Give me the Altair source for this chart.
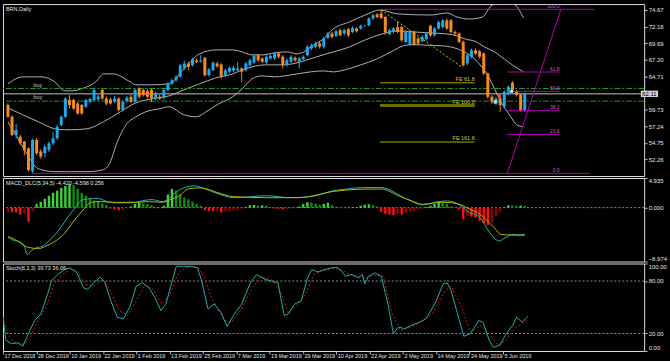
import altair as alt
import pandas as pd
import numpy as np

# ------------------------------------------------------------------ data
OPEN = [
    60.43, 58.69, 55.95, 55.70, 54.95, 53.96, 50.47, 55.20, 53.46, 53.21,
    53.71, 54.70, 55.45, 57.44, 58.69, 61.17, 61.17, 60.68, 60.43, 60.18,
    60.93, 61.17, 61.30, 62.67, 61.42, 61.27, 60.93, 61.42, 59.68, 61.03,
    61.67, 60.93, 62.92, 62.67, 62.52, 62.67, 61.42, 61.67, 61.52, 62.67,
    63.67, 64.16, 64.66, 65.91, 66.66, 66.41, 67.16, 66.91, 67.50, 64.91,
    65.66, 66.66, 66.51, 64.81, 65.41, 65.61, 65.66, 65.91, 65.66, 66.41,
    66.81, 67.90, 67.40, 66.81, 67.40, 67.40, 68.15, 67.65, 66.41, 66.91,
    67.50, 66.91, 67.30, 67.90, 68.90, 69.15, 69.65, 69.15, 70.49, 71.14,
    70.79, 71.64, 71.14, 71.79, 71.39, 71.89, 71.89, 72.28, 72.38, 73.38, 73.98,
    74.13, 73.63, 71.04, 71.39, 72.13, 72.13, 69.89, 69.50, 71.39, 70.39,
    69.99, 70.29, 72.30, 70.89, 71.89, 72.13, 73.13, 73.13, 71.39, 71.14,
    69.89, 66.66, 67.65, 68.65, 68.50, 68.15, 65.16, 61.67, 60.68, 61.42,
    60.18, 62.17, 63.76, 62.52, 62.02, 59.68]
HIGH = [
    60.7, 58.9, 57.6, 56.0, 55.1, 54.1, 55.4, 55.5, 53.8, 54.5,
    55.0, 56.4, 57.5, 58.9, 61.6, 61.9, 61.4, 60.9, 60.6, 61.4,
    61.6, 62.9, 62.0, 62.9, 61.7, 61.5, 61.8, 61.6, 61.1, 61.8,
    62.0, 62.9, 63.1, 62.9, 62.8, 62.9, 62.4, 62.0, 62.9, 63.9,
    64.4, 64.9, 66.6, 67.1, 66.9, 67.5, 67.4, 67.9, 67.6, 66.0,
    67.0, 66.9, 66.7, 65.9, 66.2, 66.3, 66.9, 66.1, 66.9, 67.4,
    68.0, 68.1, 67.6, 67.9, 68.0, 68.4, 68.4, 67.9, 67.4, 67.9,
    67.7, 67.6, 67.9, 69.4, 69.6, 69.9, 69.9, 70.6, 71.4, 71.4,
    71.7, 71.9, 71.9, 72.0, 72.2, 72.1, 72.5, 72.45, 73.6, 74.1, 74.2,
    74.77, 73.8, 71.9, 72.1, 72.9, 72.3, 71.6, 71.7, 71.6, 70.6,
    70.9, 71.4, 72.48, 72.1, 73.1, 73.3, 73.4, 73.3, 71.6, 71.3,
    70.1, 68.1, 68.9, 68.9, 68.7, 68.3, 65.3, 61.9, 61.6, 61.7,
    62.6, 63.4, 64.0, 62.7, 62.2, 62.3]
LOW = [
    58.5, 55.8, 55.45, 54.5, 52.9, 50.5, 50.2, 52.9, 52.4, 52.6,
    53.4, 54.4, 55.2, 57.2, 58.5, 59.9, 59.7, 59.0, 59.0, 60.0,
    60.7, 61.0, 61.0, 61.2, 60.4, 60.5, 60.7, 59.5, 59.5, 60.8,
    60.7, 60.7, 61.4, 61.7, 61.4, 60.9, 61.1, 61.2, 61.3, 62.5,
    63.4, 63.9, 64.5, 65.7, 65.66, 66.2, 66.7, 66.8, 64.7, 64.7,
    65.5, 66.0, 64.4, 64.6, 65.2, 65.4, 65.5, 63.9, 65.4, 66.2,
    66.6, 66.9, 66.7, 66.6, 67.2, 67.2, 67.4, 65.9, 66.2, 66.7,
    66.9, 65.9, 67.1, 67.7, 68.7, 68.9, 68.9, 68.9, 70.3, 70.4,
    70.6, 70.7, 70.9, 70.6, 71.2, 71.3, 71.7, 72.15, 72.2, 73.2, 73.4,
    73.3, 71.0, 70.9, 71.2, 71.2, 69.9, 69.7, 69.3, 69.3, 69.4,
    69.8, 70.1, 70.6, 70.7, 71.7, 71.9, 71.7, 71.2, 70.9, 69.7,
    66.2, 66.4, 67.4, 67.9, 67.4, 64.9, 61.4, 60.6, 60.4, 59.43,
    59.9, 61.9, 62.4, 61.7, 59.4, 59.4]
CLOSE = [
    58.69, 55.95, 56.69, 54.70, 53.71, 50.72, 55.20, 53.21, 52.71, 54.20,
    54.70, 55.45, 57.19, 58.69, 61.42, 60.43, 59.93, 59.18, 59.18, 61.17,
    61.32, 62.67, 61.70, 61.42, 60.68, 60.68, 61.42, 59.68, 60.93, 61.52,
    60.93, 62.67, 61.67, 61.92, 61.67, 61.42, 62.17, 61.42, 62.67, 63.67,
    64.16, 64.66, 66.41, 66.66, 66.16, 67.30, 66.91, 67.10, 64.91, 65.76,
    66.76, 66.26, 64.66, 65.66, 66.01, 66.01, 65.90, 65.41, 66.66, 67.16,
    67.80, 67.16, 66.91, 67.65, 67.80, 68.15, 67.65, 66.41, 67.16, 67.65,
    67.16, 67.40, 67.65, 69.15, 69.40, 69.65, 69.15, 70.39, 71.14, 70.64,
    71.49, 70.89, 71.64, 70.89, 71.99, 71.49, 72.28, 72.32, 73.38, 73.88, 73.63,
    73.48, 71.29, 71.64, 71.89, 71.39, 70.14, 71.39, 71.49, 69.50, 69.65,
    70.64, 71.14, 70.89, 71.89, 72.88, 73.13, 71.89, 71.39, 71.14, 69.89,
    66.41, 67.90, 68.65, 68.15, 67.65, 65.16, 61.67, 60.93, 61.42, 60.43,
    62.42, 63.17, 62.67, 61.92, 59.68, 62.11]

# Bollinger bands: (bar index, price)
BB_UPPER = [(0, 63.61), (3.6, 64.65), (8.3, 64.65), (11.4, 63.91), (13.8, 62.56), (15.5, 62.56),
            (18.6, 63.01), (21.4, 63.91), (23.3, 65.10), (25.7, 65.10), (29.8, 63.91), (31.2, 63.46),
            (35.2, 63.46), (39.3, 63.61), (42.9, 65.85), (46.7, 68.09), (50.7, 68.69), (54.8, 68.69),
            (57.1, 68.39), (59.5, 67.94), (61.9, 67.94), (65.0, 68.24), (68.1, 68.39), (70.5, 68.09),
            (72.1, 68.39), (74.5, 69.44), (76.9, 70.33), (79.3, 71.83), (83.3, 72.88), (87.1, 73.92),
            (90.7, 74.67), (95.2, 74.07), (103.1, 73.92), (107.1, 74.22), (109.5, 73.62), (112.6, 73.32),
            (115.7, 73.62), (118.1, 75.42), (120.2, 75.56), (122.1, 75.56), (123.3, 75.50), (125.7, 73.47)]
BB_MID = [(0, 60.0), (3.6, 58.97), (7.4, 57.93), (11.4, 56.88), (13.8, 56.73), (15.5, 56.73),
          (19.3, 56.88), (23.3, 57.93), (27.4, 59.42), (31.2, 60.77), (35.2, 61.37), (39.3, 61.81),
          (42.9, 62.71), (46.7, 63.61), (50.7, 64.50), (54.8, 65.10), (57.1, 65.70), (59.5, 66.15),
          (62.6, 66.45), (66.7, 66.45), (70.5, 66.75), (72.9, 67.20), (75.2, 67.64), (77.6, 68.09),
          (79.3, 68.39), (83.3, 69.14), (87.1, 70.19), (91.2, 71.08), (95.2, 71.53), (99.0, 71.38),
          (103.1, 71.23), (107.1, 71.08), (109.5, 70.78), (111.4, 70.33), (113.8, 70.0), (116.2, 69.14),
          (118.6, 68.39), (121.0, 67.34), (123.3, 66.30), (125.7, 65.40)]
BB_LOWER = [(0, 57.93), (1.9, 55.98), (4.3, 53.44), (7.4, 50.90), (11.4, 50.45), (15.5, 50.45),
            (19.3, 50.45), (23.3, 50.75), (25.0, 51.95), (26.4, 54.49), (28.8, 57.48), (31.2, 58.67),
            (33.6, 59.42), (36.9, 59.87), (39.3, 60.17), (42.9, 58.97), (46.0, 58.67), (48.3, 59.42),
            (51.4, 60.62), (54.8, 61.66), (57.1, 62.86), (59.5, 64.35), (61.9, 64.80), (65.0, 64.65),
            (67.4, 64.80), (70.5, 65.10), (73.8, 65.40), (76.9, 65.55), (79.3, 65.40), (82.1, 65.70),
            (86.0, 66.45), (90.0, 67.34), (94.0, 68.60), (96.4, 69.30), (98.8, 69.50), (101.9, 69.40),
            (106.0, 69.30), (109.8, 68.80), (112.1, 68.10), (113.8, 67.34), (115.5, 66.15), (116.9, 64.95),
            (118.6, 62.90), (120.2, 60.92), (122.6, 58.67), (124.0, 57.48), (125.7, 57.18)]

BUY_LEVELS = [62.91, 61.02]
LAST_PRICE = 62.11
FE_NAMES = ["FE 61.8", "FE 100.0", "FE 161.8"]
FE_LEVELS = [63.76, 60.36, 54.89]
FE_SPAN = (90.7, 113.8)
FIB_NAMES = ["100.0", "61.8", "50.0", "38.2", "23.6", "0.0"]
FIB_LEVELS = [74.77, 65.38, 62.49, 59.59, 56.00, 50.20]
FIB_START = [91.0, 121.7, 121.7, 121.7, 121.7, 5.7]
FIB_END = [142.9, 134.5, 134.5, 134.5, 134.5, 141.7]
FIB_DIAG = [(121.7, 50.10), (134.8, 74.77)]
ZIGZAG = [(91.0, 74.67), (110.6, 66.15)]
TRADE_MARKS = [(118.8, 60.9, "buy"), (119.8, 61.8, "close"), (122.8, 62.5, "buy")]

MACD_HIST = [
    -0.70, -0.75, -0.82, -1.15, -1.00, -2.35, -0.60, 0.60, 1.00, 1.50,
    2.00, 2.50, 2.80, 3.30, 3.60, 3.90, 3.80, 3.10, 2.50, 2.00,
    1.50, 1.20, 1.00, 0.70, 0.40, -0.15, -0.25, -0.45, -0.30, -0.10,
    0.20, 0.60, 0.80, 0.70, 0.60, 0.40, 0.10, -0.10, 0.30, 2.20,
    3.10, 2.80, 2.20, 1.70, 1.40, 1.00, 0.60, 0.30, -0.45, -0.55,
    -0.60, -0.45, -0.80, -0.65, -0.55, -0.40, -0.40, -0.20, 0.10, 0.40,
    0.45, 0.35, 0.40, 0.30, 0.10, -0.15, -0.20, -0.30, -0.20, -0.15,
    -0.05, 0.20, 0.60, 0.90, 0.80, 0.70, 0.50, 0.60, 0.80, 0.40,
    0.15, 0.05, -0.05, -0.10, 0.05, 0.10, 0.30, 0.50, 0.55, 0.40,
    0.20, -0.70, -1.00, -1.15, -1.25, -1.00, -1.15, -0.80, -0.70, -0.60,
    -0.30, -0.20, 0.10, 0.30, 0.60, 1.00, 0.80, 0.60, 0.20, 0.05,
    -0.30, -1.90, -1.40, -1.50, -1.70, -2.20, -2.60, -2.90, -2.45, -1.40,
    -0.60, 0.10, 0.40, 0.35, 0.30, 0.30, 0.256]
MACD_MAIN = [(0, -4.83), (1.1, -5.37), (2.7, -5.65), (3.9, -6.19), (4.7, -7.83), (5.5, -7.29),
             (6.7, -6.73), (8.3, -6.47), (9.8, -5.65), (11.4, -4.55), (13.0, -3.20), (14.6, -1.56),
             (16.2, -0.19), (17.8, 1.17), (19.4, 1.45), (21.0, 1.55), (22.5, 1.45), (24.1, 1.01),
             (26.5, 0.80), (28.9, 0.80), (31.3, 0.89), (32.9, 1.17), (35.2, 1.34), (37.6, 1.01),
             (39.5, 1.66), (40.7, 2.48), (42.9, 3.30), (45.5, 3.63), (47.9, 3.14), (51.2, 2.32),
             (55.0, 1.66), (59.0, 1.80), (63.1, 1.99), (68.6, 1.66), (75.0, 1.99), (79.3, 2.81),
             (82.4, 3.09), (87.1, 3.35), (91.2, 3.35), (93.6, 2.81), (96.0, 1.83), (98.3, 1.10),
             (101.0, 0.45), (105.0, 1.01), (107.1, 1.11), (110.1, 0.45), (112.1, -0.63), (115.2, -1.72),
             (117.2, -3.90), (119.8, -5.54), (121.3, -4.99), (123.3, -4.46), (124.6, -4.60), (126.0, -4.42)]
MACD_SIGNAL = [(0, -4.83), (1.9, -5.37), (4.3, -6.47), (5.9, -6.73), (7.5, -6.85), (9.0, -6.47),
               (11.4, -5.65), (13.8, -4.28), (16.2, -2.10), (18.6, -0.19), (20.2, 0.89), (22.5, 1.01),
               (25.7, 0.89), (28.9, 0.89), (31.3, 0.89), (34.5, 1.01), (37.6, 0.89), (40.0, 1.45),
               (41.6, 1.88), (44.0, 3.14), (47.1, 3.30), (51.2, 2.48), (55.0, 1.83), (63.1, 1.66),
               (71.0, 1.66), (79.3, 2.69), (87.1, 3.09), (91.2, 3.09), (95.2, 1.99), (98.3, 1.17),
               (101.0, 0.57), (106.0, 0.89), (109.1, 0.73), (112.1, -0.09), (115.2, -1.18),
               (118.2, -3.08), (120.3, -4.46), (122.3, -4.55), (126.0, -4.60)]

STOCH_MAIN = [(0, 38.6), (0.7, 12.3), (2.0, 8.6), (3.6, 9.3), (4.8, 5.6), (6.1, 19.8), (7.6, 34.8),
              (9.1, 42.4), (10.7, 64.9), (11.7, 80.6), (13.2, 87.4), (14.7, 93.0), (16.2, 94.9),
              (17.8, 89.3), (19.3, 72.4), (20.3, 70.5), (21.8, 78.0), (23.3, 84.4), (24.4, 79.1),
              (25.9, 57.4), (27.4, 38.6), (28.9, 36.7), (30.4, 49.9), (32.0, 74.3), (33.5, 78.0),
              (35.0, 72.4), (36.5, 61.1), (37.9, 46.1), (39.1, 53.6), (40.6, 79.9), (41.6, 96.8),
              (43.1, 96.8), (45.2, 96.8), (46.7, 94.9), (47.7, 79.9), (49.2, 48.0), (50.7, 53.6),
              (52.3, 44.2), (53.8, 28.1), (55.3, 40.5), (57.3, 53.6), (59.4, 78.0), (60.9, 87.4),
              (62.9, 81.8), (64.4, 79.9), (66.0, 78.0), (67.5, 40.5), (68.5, 42.4), (70.0, 53.6),
              (71.6, 57.4), (73.1, 83.6), (74.1, 93.0), (75.6, 90.4), (77.1, 93.0), (78.7, 94.9),
              (80.2, 95.7), (81.2, 91.9), (82.2, 85.5), (83.7, 87.4), (85.3, 83.6), (86.3, 87.4),
              (86.8, 76.9), (87.8, 85.5), (89.3, 89.3), (90.8, 85.5), (92.4, 53.6), (93.7, 19.8),
              (94.9, 27.3), (96.4, 25.5), (97.9, 29.2), (100.0, 33.0), (101.5, 36.7), (102.5, 44.2),
              (104.0, 57.4), (105.6, 76.1), (106.6, 78.0), (107.6, 68.6), (109.1, 42.4), (110.6, 16.8),
              (112.2, 19.8), (114.2, 34.8), (115.2, 33.0), (116.7, 12.3), (117.7, 4.1), (119.3, 6.7),
              (120.8, 19.8), (122.3, 29.2), (123.3, 38.6), (124.6, 33.0), (126.0, 39.73)]
STOCH_SIGNAL = [(0, 38.6), (1.5, 16.1), (3.0, 9.3), (5.1, 7.8), (6.6, 16.1), (8.6, 36.7), (10.7, 53.6),
                (12.2, 76.1), (14.2, 87.4), (16.2, 93.0), (17.8, 91.9), (19.8, 76.1), (21.8, 74.3),
                (23.9, 81.8), (25.4, 72.4), (27.9, 46.1), (29.9, 40.5), (32.0, 57.4), (34.0, 75.4),
                (36.0, 70.5), (38.1, 53.6), (40.1, 64.9), (42.1, 89.3), (44.7, 96.8), (46.7, 95.7),
                (48.2, 85.5), (49.7, 64.9), (51.3, 49.9), (53.3, 34.8), (54.8, 33.0), (57.3, 48.0),
                (59.9, 72.4), (61.9, 84.4), (64.4, 81.8), (66.5, 68.6), (68.5, 44.2), (70.5, 51.7),
                (72.6, 64.9), (74.6, 87.4), (76.6, 91.9), (79.2, 94.2), (81.2, 93.0), (83.2, 87.4),
                (86.8, 83.6), (88.8, 86.6), (91.3, 85.5), (93.4, 42.4), (95.4, 23.6), (97.9, 27.3),
                (101.0, 34.8), (103.0, 42.4), (106.1, 68.6), (107.6, 74.3), (110.1, 49.9), (112.2, 21.7),
                (114.7, 29.2), (116.7, 19.8), (118.8, 6.7), (120.8, 12.3), (122.8, 25.5), (126.0, 36.06)]

DATE_TICKS = list(range(0, 121, 8))
DATE_LABELS = ["17 Dec 2018", "28 Dec 2018", "10 Jan 2019", "22 Jan 2019", "1 Feb 2019",
               "13 Feb 2019", "25 Feb 2019", "7 Mar 2019", "19 Mar 2019", "29 Mar 2019",
               "10 Apr 2019", "22 Apr 2019", "2 May 2019", "14 May 2019", "24 May 2019", "5 Jun 2019"]
PRICE_TICKS = [74.67, 72.18, 69.69, 67.20, 64.71, 59.73, 57.24, 54.75, 52.26]
MACD_TICKS = [4.935, 0.0, -8.974]
STOCH_TICKS = [100, 80, 20, 0]
HEADERS = ["BRN,Daily", "MACD_DLC(5,34,5) -4.420 -4.598 0.256", "Stoch(8,3,3) 39.73 36.06"]

# ------------------------------------------------------------------ style
FONT = "Liberation Sans"
BULL, BEAR = "#1FA9EC", "#F58A1F"
BAND = "#B0B0B0"
FRAME = "#BDBDBD"
TXT = "#E4E4E4"
MAGENTA = "#B000B0"
OLIVE = "#A8A800"
W = 645
XDOM = [0, 153.9]

xsc = alt.Scale(domain=XDOM, nice=False, zero=False)
ysc_main = alt.Scale(domain=[49.80, 75.56], nice=False, zero=False)
ysc_macd = alt.Scale(domain=[-8.974, 4.935], nice=False, zero=False)
ysc_st = alt.Scale(domain=[0, 100], nice=False, zero=False)


def yax(values, fmt, flush):
    return alt.Axis(orient="right", values=values, format=fmt, labelColor=TXT, labelFont=FONT,
                    labelFontSize=6, tickColor=FRAME, tickSize=3, labelPadding=1, domain=False,
                    grid=False, title=None, labelFlush=flush, labelOverlap=False)


AX_MAIN = yax(PRICE_TICKS, ".2f", False)
AX_MACD = yax(MACD_TICKS, ".3f", True)
AX_ST = yax(STOCH_TICKS, ".2f", True)

label_expr = "[" + ",".join("'%s'" % s for s in DATE_LABELS) + "][round(datum.value/8)]"
AX_X = alt.Axis(values=DATE_TICKS, labelExpr=label_expr, labelAlign="left", labelBaseline="top",
                labelPadding=0, tickSize=3, tickColor=FRAME, labelColor=TXT, labelFont=FONT,
                labelFontSize=5.5, domain=False, grid=False, title=None, labelOverlap=False,
                labelFlush=False, labelOffset=1)


def X(f, axis=None):
    if axis is None:
        return alt.X(f, scale=xsc, axis=None)
    return alt.X(f, scale=xsc, axis=axis)


def Y(f, sc, ax):
    return alt.Y(f, scale=sc, axis=ax)


RAW = lambda f: alt.Color(f, scale=None, legend=None)

# ------------------------------------------------------------------ main panel
n = len(CLOSE)
cd = pd.DataFrame({"i": np.arange(n), "o": OPEN, "h": HIGH, "l": LOW, "c": CLOSE})
cd["lo"] = cd[["o", "c"]].min(axis=1)
cd["hi"] = cd[["o", "c"]].max(axis=1)
cd["col"] = np.where(cd["c"] >= cd["o"], BULL, BEAR)

bands = pd.concat([
    pd.DataFrame(BB_UPPER, columns=["i", "p"]).assign(b="upper"),
    pd.DataFrame(BB_MID, columns=["i", "p"]).assign(b="mid"),
    pd.DataFrame(BB_LOWER, columns=["i", "p"]).assign(b="lower"),
])
band_layer = alt.Chart(bands).mark_line(color=BAND, strokeWidth=1, clip=True, interpolate="monotone").encode(
    x=X("i:Q"), y=Y("p:Q", ysc_main, AX_MAIN), detail="b:N")

buy_df = pd.DataFrame({"p": BUY_LEVELS, "t": ["buy", "buy"], "i": [6.2, 6.2]})
buy_lines = alt.Chart(buy_df).mark_rule(color="#1E9A1E", strokeWidth=1, strokeDash=[6, 2, 2, 2]).encode(
    y=Y("p:Q", ysc_main, AX_MAIN))
buy_text = alt.Chart(buy_df).mark_text(color="#C8C8C8", font=FONT, fontSize=5.5, align="left",
                                       baseline="bottom", dy=-1).encode(
    x=X("i:Q"), y=Y("p:Q", ysc_main, AX_MAIN), text="t:N")
last_line = alt.Chart(pd.DataFrame({"p": [LAST_PRICE]})).mark_rule(color="#C4C4C4", strokeWidth=1).encode(
    y=Y("p:Q", ysc_main, AX_MAIN))

wicks = alt.Chart(cd).mark_rule(strokeWidth=1, clip=True).encode(
    x=X("i:Q"), y=Y("l:Q", ysc_main, AX_MAIN), y2="h:Q", color=RAW("col:N"))
bodies = alt.Chart(cd).mark_bar(size=3, clip=True).encode(
    x=X("i:Q"), y=Y("lo:Q", ysc_main, AX_MAIN), y2="hi:Q", color=RAW("col:N"))

fe_df = pd.DataFrame({"p": FE_LEVELS, "t": FE_NAMES, "x1": [FE_SPAN[0]] * 3, "x2": [FE_SPAN[1]] * 3,
                      "w": [1, 3, 1], "col": [OLIVE, "#6E6E00", OLIVE]})
fe_lines = alt.Chart(fe_df).mark_rule().encode(
    x=X("x1:Q"), x2="x2:Q", y=Y("p:Q", ysc_main, AX_MAIN),
    strokeWidth=alt.StrokeWidth("w:Q", scale=None, legend=None), color=RAW("col:N"))
fe_text = alt.Chart(fe_df).mark_text(color="#C8C850", font=FONT, fontSize=5.5, align="right",
                                     baseline="bottom", dy=-1).encode(
    x=X("x2:Q"), y=Y("p:Q", ysc_main, AX_MAIN), text="t:N")

fib_df = pd.DataFrame({"p": FIB_LEVELS, "t": FIB_NAMES, "x1": FIB_START, "x2": FIB_END,
                       "lx": [134.5] * 6})
fib_lines = alt.Chart(fib_df).mark_rule(color=MAGENTA, strokeWidth=1).encode(
    x=X("x1:Q"), x2="x2:Q", y=Y("p:Q", ysc_main, AX_MAIN))
fib_text = alt.Chart(fib_df).mark_text(color="#C060C0", font=FONT, fontSize=5, align="right",
                                       baseline="bottom", dy=-0.5).encode(
    x=X("lx:Q"), y=Y("p:Q", ysc_main, AX_MAIN), text="t:N")
diag = alt.Chart(pd.DataFrame({"x1": [FIB_DIAG[0][0]], "p1": [FIB_DIAG[0][1]],
                               "x2": [FIB_DIAG[1][0]], "p2": [FIB_DIAG[1][1]]})).mark_rule(
    color=MAGENTA, strokeWidth=1).encode(x=X("x1:Q"), y=Y("p1:Q", ysc_main, AX_MAIN), x2="x2:Q", y2="p2:Q")
zig = alt.Chart(pd.DataFrame({"x1": [ZIGZAG[0][0]], "p1": [ZIGZAG[0][1]],
                              "x2": [ZIGZAG[1][0]], "p2": [ZIGZAG[1][1]]})).mark_rule(
    color="#C8C800", strokeWidth=1, strokeDash=[2, 2]).encode(
    x=X("x1:Q"), y=Y("p1:Q", ysc_main, AX_MAIN), x2="x2:Q", y2="p2:Q")

marks_df = pd.DataFrame(TRADE_MARKS, columns=["i", "p", "k"])
marks_df["col"] = np.where(marks_df["k"] == "buy", "#A8D8F8", "#E85050")
trade = alt.Chart(marks_df).mark_point(filled=True, size=14, opacity=1).encode(
    x=X("i:Q"), y=Y("p:Q", ysc_main, AX_MAIN), color=RAW("col:N"))

box_df = pd.DataFrame({"x1": [154.3], "x2": [158.5], "p": [LAST_PRICE], "t": ["%.2f" % LAST_PRICE],
                       "xm": [156.4]})
box_df["p1"] = box_df["p"] - 0.48
box_df["p2"] = box_df["p"] + 0.48
pbox = alt.Chart(box_df).mark_rect(color="#CFCFE0").encode(
    x=X("x1:Q"), x2="x2:Q", y=Y("p1:Q", ysc_main, AX_MAIN), y2="p2:Q")
ptext = alt.Chart(box_df).mark_text(color="#000000", font=FONT, fontSize=6, align="center",
                                    baseline="middle").encode(
    x=X("xm:Q"), y=Y("p:Q", ysc_main, AX_MAIN), text="t:N")


def header(txt):
    return alt.Chart(pd.DataFrame({"t": [txt]})).mark_text(
        color=TXT, font=FONT, fontSize=5.5, align="left", baseline="middle").encode(
        x=alt.value(3), y=alt.value(5), text="t:N")


main = alt.layer(band_layer, buy_lines, last_line, wicks, bodies, fe_lines, fe_text, fib_lines,
                 fib_text, diag, zig, buy_text, trade, pbox, ptext, header(HEADERS[0])).properties(
    width=W, height=173)

# ------------------------------------------------------------------ MACD panel
hist = pd.DataFrame({"i": np.arange(len(MACD_HIST)), "v": MACD_HIST})
prev = hist["v"].shift(1).fillna(hist["v"])
hist["col"] = np.where(hist["v"] >= 0, np.where(hist["v"] >= prev, "#3CD23C", "#138A13"),
                       np.where(hist["v"] < prev, "#FF1010", "#8E0000"))
hist["z"] = 0.0
zero = alt.Chart(pd.DataFrame({"v": [0.0]})).mark_rule(color="#8A8A8A", strokeDash=[2, 2], strokeWidth=1).encode(
    y=Y("v:Q", ysc_macd, AX_MACD))
hbars = alt.Chart(hist).mark_bar(size=2.4, clip=True).encode(
    x=X("i:Q"), y=Y("v:Q", ysc_macd, AX_MACD), y2="z:Q", color=RAW("col:N"))
ml = pd.concat([pd.DataFrame(MACD_MAIN, columns=["i", "v"]).assign(s="main", col="#19B4B4"),
                pd.DataFrame(MACD_SIGNAL, columns=["i", "v"]).assign(s="signal", col="#B8B800")])
mlines = alt.Chart(ml).mark_line(strokeWidth=1, interpolate="monotone", clip=True).encode(
    x=X("i:Q"), y=Y("v:Q", ysc_macd, AX_MACD), detail="s:N", color=RAW("col:N"))
macd = alt.layer(zero, hbars, mlines, header(HEADERS[1])).properties(width=W, height=84)

# ------------------------------------------------------------------ Stochastic panel
lv = alt.Chart(pd.DataFrame({"v": [80, 20]})).mark_rule(color="#8A8A8A", strokeDash=[2, 2], strokeWidth=1).encode(
    y=Y("v:Q", ysc_st, AX_ST))
st_main = alt.Chart(pd.DataFrame(STOCH_MAIN, columns=["i", "v"])).mark_line(
    color="#1FAFAF", strokeWidth=1, clip=True).encode(x=X("i:Q", AX_X), y=Y("v:Q", ysc_st, AX_ST))
st_sig = alt.Chart(pd.DataFrame(STOCH_SIGNAL, columns=["i", "v"])).mark_line(
    color="#D01818", strokeWidth=1, strokeDash=[2, 2], clip=True).encode(
    x=X("i:Q", AX_X), y=Y("v:Q", ysc_st, AX_ST))
stoch = alt.layer(lv, st_sig, st_main, header(HEADERS[2])).properties(width=W, height=88)

chart = alt.vconcat(main, macd, stoch, spacing=2, bounds="flush").properties(
    background="#000000", padding={"left": 2, "top": 2, "right": 2, "bottom": 0}
).configure_view(fill="#000000", stroke=FRAME, strokeWidth=1).configure(font=FONT)

chart.save("out.html", embed_options={"renderer": "svg", "actions": False})
